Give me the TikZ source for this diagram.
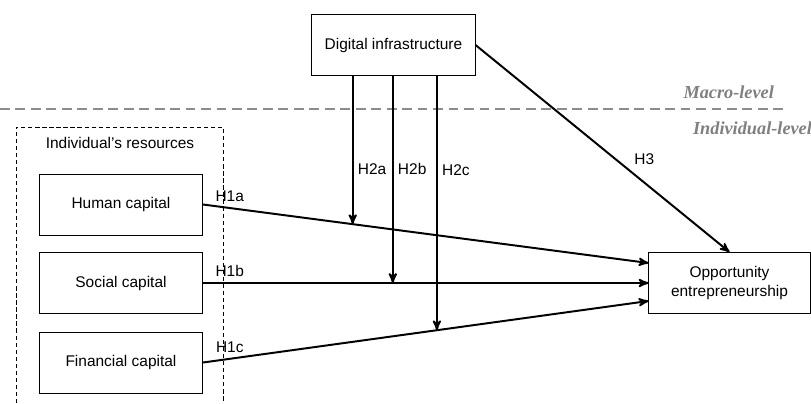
\documentclass[tikz,border=0pt]{standalone}
\usepackage{fontspec}
\setmainfont{Liberation Sans}
\newfontfamily\levelfont{Liberation Serif}
\usepackage{tikz}
\usetikzlibrary{positioning, arrows, calc}

\begin{document}
\begin{tikzpicture}[x=0.025cm, y=-0.025cm, >=stealth', semithick,
    box/.style={draw, semithick, rectangle, minimum width=4.08cm, minimum height=1.525cm,
        align=center, font=\fontsize{11}{13.5}\selectfont},
    hyp/.style={font=\fontsize{11}{13}\selectfont, inner sep=1pt},
    level/.style={font=\levelfont\fontsize{13}{15}\selectfont\bfseries\itshape, text=black!50},
    effect/.style={->, line width=1.4pt}]
    \useasboundingbox (0,0) rectangle (811,403);

    % levels
    \draw[black!45, line width=1.2pt, dash pattern=on 7pt off 4pt] (0,109) -- (785,109);
    \node[level, anchor=east] (macro) at (779,92) {Macro-level};
    \node[level, anchor=west] (indiv) at (688,128) {Individual-level};

    % individual's resources
    \draw[thin, densely dashed] (16,403) |- (223,127) -- (223,403);
    \node[hyp] (res) at (120,143) {Individual’s resources};

    \node[box] (di) at (393.5,45) {Digital infrastructure};
    \node[box] (hc) at (121,204.5) {Human capital};
    \node[box] (sc) at (121,283) {Social capital};
    \node[box] (fc) at (121,362.5) {Financial capital};
    \node[box, minimum width=4.03cm] (oe) at (729.5,283) {Opportunity\\entrepreneurship};

    \coordinate (oea) at ($(oe.west)+(0,-20)$);
    \coordinate (oec) at ($(oe.west)+(0,18)$);

    % direct effects
    \draw[effect] (hc.east) -- node[hyp, pos=0.06, above=3pt] {H1a} (oea);
    \draw[effect] (sc.east) -- node[hyp, pos=0.06, above=3pt] {H1b} (oe.west);
    \draw[effect] (fc.east) -- node[hyp, pos=0.06, above=3pt] {H1c} (oec);
    \draw[effect] (di.east) -- node[hyp, pos=0.55, right=12pt] {H3} (oe.north);

    % moderation
    \coordinate (h2a) at ($(hc.east)!0.336!(oea)$);
    \coordinate (h2b) at ($(sc.east)!0.426!(oe.west)$);
    \coordinate (h2c) at ($(fc.east)!0.525!(oec)$);
    \draw[effect] (di.south -| h2a) -- node[hyp, pos=0.63, right=2pt] {H2a} (h2a);
    \draw[effect] (di.south -| h2b) -- node[hyp, pos=0.45, right=2pt] {H2b} (h2b);
    \draw[effect] (di.south -| h2c) -- node[hyp, pos=0.37, right=2pt] {H2c} (h2c);
\end{tikzpicture}
\end{document}
